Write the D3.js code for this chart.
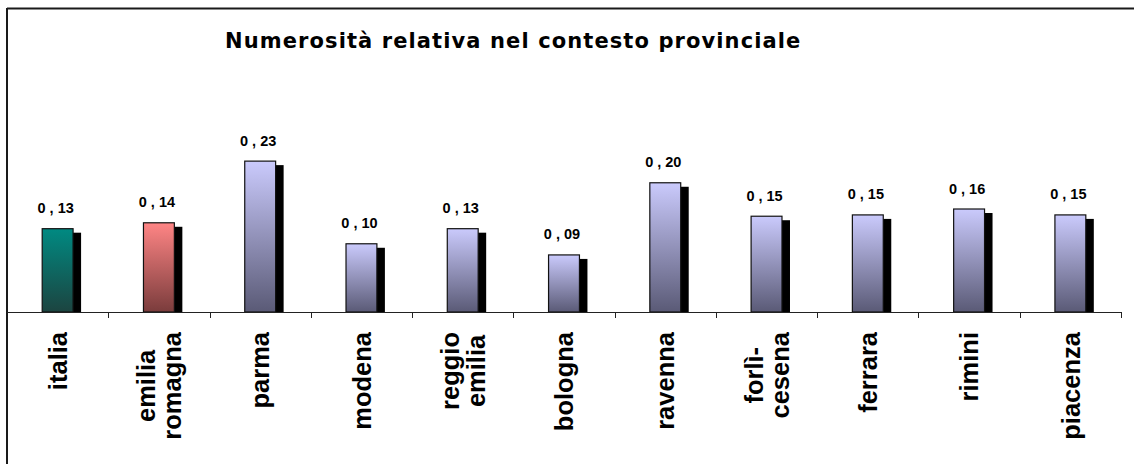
<!DOCTYPE html>
<html><head><meta charset="utf-8">
<script src="https://cdn.jsdelivr.net/npm/d3@7"></script>
<style>html,body{margin:0;padding:0;background:#fff;}svg{display:block;}</style>
</head><body>
<svg id="chart" width="1134" height="464"></svg>
<script>
const titleText = "Numerosità relativa nel contesto provinciale";
const categories = ["italia", "emilia romagna", "parma", "modena", "reggio emilia", "bologna", "ravenna", "forlì-cesena", "ferrara", "rimini", "piacenza"];
const categoryLines = [["italia"], ["emilia", "romagna"], ["parma"], ["modena"], ["reggio", "emilia"], ["bologna"], ["ravenna"], ["forlì-", "cesena"], ["ferrara"], ["rimini"], ["piacenza"]];
const values = [0.127, 0.136, 0.230, 0.104, 0.127, 0.087, 0.197, 0.146, 0.148, 0.157, 0.148];
const barKinds = ["italia", "region", "prov", "prov", "prov", "prov", "prov", "prov", "prov", "prov", "prov"];

const svg = d3.select("#chart");
const W = 1134, H = 464;
const left = 7, right = 1121, baseY = 312;

const x = d3.scaleBand().domain(categories).range([left, right]).padding(0);
const y = d3.scaleLinear().domain([0, 0.35]).range([baseY, baseY - 0.35 * 656]);
const barW = x.bandwidth() * 0.305;
const shX = 8, shY = 4;

const defs = svg.append("defs");
const grads = {
  italia: ["#008a82", "#1c4440"],
  region: ["#ff8585", "#7a3c3c"],
  prov: ["#cacafc", "#5a5a76"]
};
Object.entries(grads).forEach(([k, c]) => {
  const g = defs.append("linearGradient").attr("id", "g_" + k).attr("x1", 0).attr("y1", 0).attr("x2", 0).attr("y2", 1);
  g.append("stop").attr("offset", "0%").attr("stop-color", c[0]);
  g.append("stop").attr("offset", "100%").attr("stop-color", c[1]);
});

svg.append("rect").attr("width", W).attr("height", H).attr("fill", "#fff");

// frame (left and top)
svg.append("line").attr("x1", 7).attr("x2", W).attr("y1", 8.5).attr("y2", 8.5).attr("stroke", "#1a1a1a").attr("stroke-width", 2);
svg.append("line").attr("x1", 7).attr("x2", 7).attr("y1", 8).attr("y2", H).attr("stroke", "#1a1a1a").attr("stroke-width", 2);

// title
svg.append("text").attr("x", 225).attr("y", 48)
  .attr("font-family", "DejaVu Sans, Verdana, sans-serif").attr("font-weight", "bold")
  .attr("font-size", 21).attr("letter-spacing", 1.1).attr("fill", "#000").text(titleText);

// shadows
svg.append("g").selectAll("rect").data(categories).join("rect")
  .attr("x", (d) => x(d) + (x.bandwidth() - barW) / 2 + shX)
  .attr("y", (d, i) => y(values[i]) + shY)
  .attr("width", barW)
  .attr("height", (d, i) => baseY - y(values[i]) - shY)
  .attr("fill", "#000");

// bars
svg.append("g").selectAll("rect").data(categories).join("rect")
  .attr("x", (d) => x(d) + (x.bandwidth() - barW) / 2)
  .attr("y", (d, i) => y(values[i]))
  .attr("width", barW)
  .attr("height", (d, i) => baseY - y(values[i]))
  .attr("fill", (d, i) => "url(#g_" + barKinds[i] + ")")
  .attr("stroke", "#111").attr("stroke-width", 1.2);

// value labels
const fmt = d3.format(".2f");
svg.append("g").selectAll("text").data(categories).join("text")
  .attr("x", (d) => x(d) + x.bandwidth() / 2 - 2)
  .attr("y", (d, i) => y(values[i]) - 15.5)
  .attr("text-anchor", "middle")
  .attr("font-family", "Liberation Sans, Arial, sans-serif").attr("font-weight", "bold")
  .attr("font-size", 14.5).attr("fill", "#000")
  .text((d, i) => fmt(values[i]).replace(".", " , "));

// axis line and boundary ticks
svg.append("line").attr("x1", left).attr("x2", right).attr("y1", baseY + 0.5).attr("y2", baseY + 0.5).attr("stroke", "#222").attr("stroke-width", 1);
svg.append("g").selectAll("line").data(categories).join("line")
  .attr("x1", (d) => Math.round(x(d) + x.bandwidth()) + 0.5)
  .attr("x2", (d) => Math.round(x(d) + x.bandwidth()) + 0.5)
  .attr("y1", baseY).attr("y2", baseY + 6)
  .attr("stroke", "#222").attr("stroke-width", 1);

// category labels
const fs = 25.5, lh = 26;
const labelTop = 332;
const lg = svg.append("g");
categories.forEach((c, i) => {
  const lines = categoryLines[i];
  const cx = x(c) + x.bandwidth() / 2;
  const g = lg.append("g");
  const texts = lines.map((ln, j) => {
    const bx = cx + fs * 0.36 + (j - (lines.length - 1) / 2) * lh;
    return g.append("text")
      .attr("font-family", "Liberation Sans, Arial, sans-serif").attr("font-weight", "bold")
      .attr("font-size", fs).attr("fill", "#000")
      .attr("text-anchor", "middle")
      .datum(bx)
      .text(ln);
  });
  const maxLen = d3.max(texts, t => t.node().getComputedTextLength());
  const cy = labelTop + maxLen / 2;
  texts.forEach(t => {
    const bx = t.datum();
    t.attr("transform", `translate(${bx},${cy}) rotate(-90)`);
  });
});
</script>
</body></html>
